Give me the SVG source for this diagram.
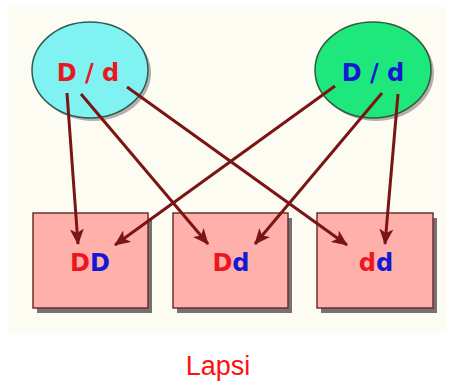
<svg xmlns="http://www.w3.org/2000/svg" width="455" height="383" viewBox="0 0 455 383">
  <style>
    .lbl { font-family: "DejaVu Sans", Verdana, sans-serif; font-weight: bold; font-size: 24px; text-anchor: middle; }
    .r { fill: #ea1620; }
    .b { fill: #1418d2; }
    .box { fill: #ffb0ab; stroke: #6a3030; stroke-width: 1.5; }
    .shadow { fill: #7a7070; }
    .edge { stroke: #7b1515; stroke-width: 3; fill: none; marker-end: url(#arrow); }
  </style>
  <defs>
    <marker id="arrow" markerUnits="userSpaceOnUse" markerWidth="16" markerHeight="14" viewBox="0 0 16 14" refX="15" refY="7" orient="auto">
      <path d="M0,0 L16,7 L0,14 L4,7 Z" fill="#7b1515"/>
    </marker>
  </defs>

  <rect x="0" y="0" width="455" height="383" fill="#ffffff"/>
  <rect x="8" y="7" width="439" height="326" fill="#fdfcf3"/>

  <!-- parent 1 -->
  <g id="parent-left">
    <ellipse cx="93" cy="73" rx="58" ry="48" class="shadow" opacity="0.55"/>
    <ellipse cx="90" cy="70" rx="58" ry="48" fill="#80f2f2" stroke="#2f5a50" stroke-width="1.5"/>
    <text x="88" y="81" class="lbl r">D / d</text>
  </g>

  <!-- parent 2 -->
  <g id="parent-right">
    <ellipse cx="376" cy="73" rx="58" ry="48" class="shadow" opacity="0.55"/>
    <ellipse cx="373" cy="70" rx="58" ry="48" fill="#1ee87c" stroke="#2f5a40" stroke-width="1.5"/>
    <text x="373" y="81" class="lbl b">D / d</text>
  </g>

  <!-- offspring -->
  <g id="child-DD">
    <rect x="37" y="218" width="115" height="95" class="shadow"/>
    <rect x="33" y="213" width="115" height="95" class="box"/>
    <text x="90" y="271" class="lbl"><tspan class="r">D</tspan><tspan class="b">D</tspan></text>
  </g>
  <g id="child-Dd">
    <rect x="177" y="218" width="115" height="95" class="shadow"/>
    <rect x="173" y="213" width="115" height="95" class="box"/>
    <text x="231" y="271" class="lbl"><tspan class="r">D</tspan><tspan class="b">d</tspan></text>
  </g>
  <g id="child-dd">
    <rect x="321" y="218" width="116" height="95" class="shadow"/>
    <rect x="317" y="213" width="116" height="95" class="box"/>
    <text x="376" y="271" class="lbl"><tspan class="r">d</tspan><tspan class="b">d</tspan></text>
  </g>

  <!-- connectors -->
  <g id="connectors">
    <line x1="67" y1="93" x2="78" y2="244" class="edge"/>
    <line x1="81" y1="94" x2="208" y2="244" class="edge"/>
    <line x1="127" y1="87" x2="347" y2="245" class="edge"/>
    <line x1="335" y1="86" x2="115" y2="245" class="edge"/>
    <line x1="382" y1="93" x2="255" y2="244" class="edge"/>
    <line x1="398" y1="94" x2="385" y2="244" class="edge"/>
  </g>

  <text x="218" y="375" font-family="Liberation Sans, Arial, sans-serif" font-size="27" fill="#ff1010" text-anchor="middle">Lapsi</text>
</svg>
